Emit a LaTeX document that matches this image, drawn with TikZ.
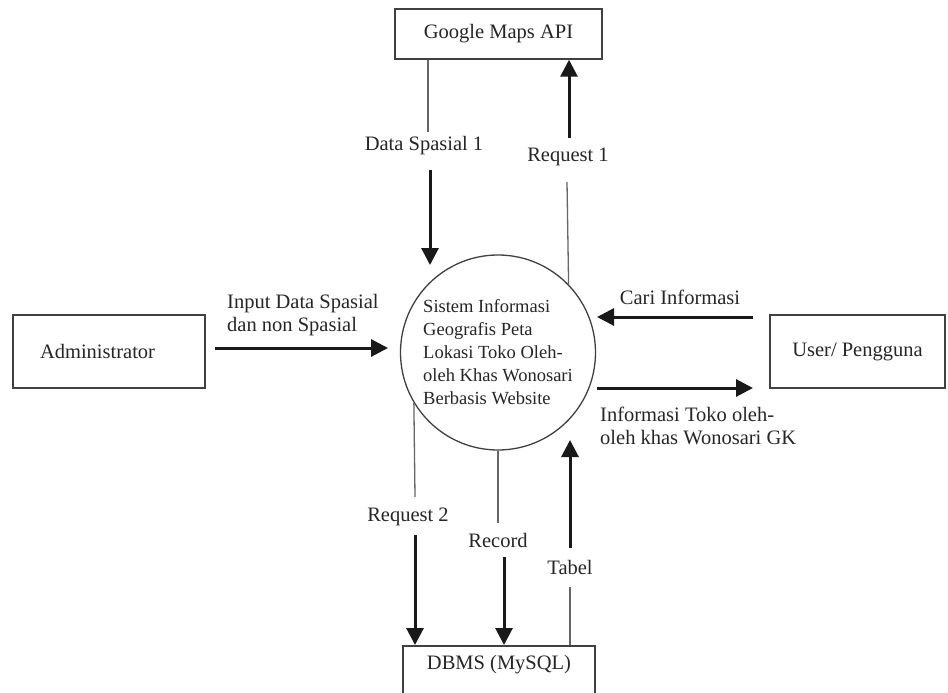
\documentclass[tikz,border=0pt]{standalone}
\usepackage{fontspec}
\setmainfont{Liberation Serif}
\usetikzlibrary{arrows.meta}
\begin{document}
\begin{tikzpicture}[x=1pt,y=-1pt,
  every node/.style={font=\fontsize{20.5}{23.5}\selectfont, text=black!85},
  box/.style={draw=black!75, line width=1.5pt, inner sep=0pt},
  lbl/.style={inner sep=1pt},
  flow/.style={line width=3pt, draw=black!90, -{Triangle[length=17pt,width=17pt]}},
  thinline/.style={draw=black!60, line width=1.3pt},
]
\useasboundingbox (0,0) rectangle (948,693);
\clip (0,0) rectangle (948,693);
\fill[white] (0,0) rectangle (948,693);

% boxes
\node[box, minimum width=207pt, minimum height=50pt] (gm) at (498.5,34) {Google Maps API};
\node[box, minimum width=192pt, minimum height=73pt, text width=138pt, inner xsep=27pt, align=left] (admin) at (109,351.5) {Administrator};
\node[box, minimum width=175pt, minimum height=73pt] (user) at (857.5,351.5) {User/ Pengguna};
\node[box, minimum width=192pt, text height=14pt, text depth=40pt, inner ysep=10pt, anchor=north] (db) at (499,645) {DBMS (MySQL)};

% process
\node[draw=black!75, line width=1.3pt, circle, minimum size=195pt, inner sep=0pt, align=left,
      font=\fontsize{18.5}{23}\selectfont] (sys) at (498,352.5)
  {Sistem Informasi\\Geografis Peta\\Lokasi Toko Oleh-\\oleh Khas Wonosari\\Berbasis Website};

% coordinates
\coordinate (A1) at (428,132);
\coordinate (A2) at (430,170);
\coordinate (A3) at (430,265);
\coordinate (B2) at (567,182);
\coordinate (B3) at (569,138);
\coordinate (C0) at (215,348);
\coordinate (C1) at (388,348);
\coordinate (D0) at (753,317);
\coordinate (D1) at (597,317);
\coordinate (E0) at (597,388);
\coordinate (E1) at (753,388);
\coordinate (F1) at (415,497);
\coordinate (F2) at (415,535);
\coordinate (G1) at (498,523);
\coordinate (G2) at (504,557);
\coordinate (H1) at (570,587);
\coordinate (H2) at (570,548);
\coordinate (H3) at (570,440);

% labels
\node[lbl] (ds) at (424,146) {Data Spasial 1};
\node[lbl] (rq1) at (568,157) {Request 1};
\node[lbl, anchor=west, align=left] (inp) at (226,315) {Input Data Spasial\\dan non Spasial};
\node[lbl] (cari) at (680,297) {Cari Informasi};
\node[lbl, anchor=west, align=left] (info) at (599,426) {Informasi Toko oleh-\\oleh khas Wonosari GK};
\node[lbl] (rq2) at (408,517) {Request 2};
\node[lbl] (rec) at (498,540) {Record};
\node[lbl] (tab) at (570,567) {Tabel};

% flows
\draw[thinline] (gm.south -| A1) -- (A1);
\draw[flow] (A2) -- (A3);

\draw[thinline] (sys.44.6) -- (B2);
\draw[flow] (B3) -- (gm.south -| B3);

\draw[flow] (C0) -- (C1);
\draw[flow] (D0) -- (D1);
\draw[flow] (E0) -- (E1);

\draw[thinline] (sys.211) -- (F1);
\draw[flow] (F2) -- (db.north -| F2);

\draw[thinline] (sys.south) -- (G1);
\draw[flow] (G2) -- (db.north -| G2);

\draw[thinline] (db.north -| H1) -- (H1);
\draw[flow] (H2) -- (H3);
\end{tikzpicture}
\end{document}
